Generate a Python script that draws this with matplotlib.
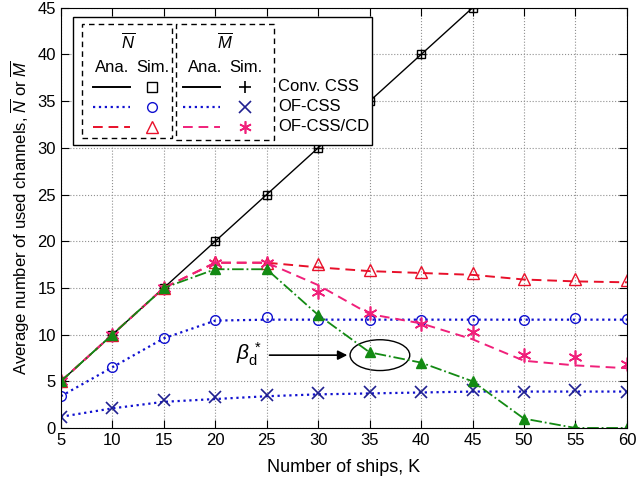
import matplotlib.pyplot as plt
from matplotlib.patches import Rectangle, Ellipse

plt.rcParams['font.family'] = ['Liberation Sans', 'DejaVu Sans']
plt.rcParams['mathtext.fontset'] = 'custom'
plt.rcParams['mathtext.it'] = 'Liberation Sans:italic'
plt.rcParams['mathtext.rm'] = 'Liberation Sans'

K = [5, 10, 15, 20, 25, 30, 35, 40, 45, 50, 55, 60]

# conventional CSS: every ship uses its own channel
conv = [5, 10, 15, 20, 25, 30, 35, 40, 45, 50, 55, 60]

of_n_ana = [3.4, 6.5, 9.6, 11.5, 11.6, 11.6, 11.6, 11.6, 11.6, 11.6, 11.6, 11.6]
of_n_sim = [3.4, 6.5, 9.6, 11.6, 11.9, 11.6, 11.6, 11.6, 11.6, 11.6, 11.8, 11.7]
of_m_ana = [1.2, 2.1, 2.8, 3.1, 3.4, 3.6, 3.7, 3.8, 3.9, 3.9, 3.9, 3.9]
of_m_sim = [1.2, 2.1, 3.0, 3.3, 3.5, 3.7, 3.8, 3.9, 4.1, 3.9, 4.1, 3.9]

cd_n_ana = [5, 10, 15, 17.7, 17.7, 17.2, 16.8, 16.6, 16.4, 15.9, 15.7, 15.6]
cd_n_sim = [5, 10, 15, 17.8, 17.7, 17.6, 16.9, 16.7, 16.6, 16.0, 16.0, 15.9]
cd_m_ana = [5, 10, 15, 17.7, 17.7, 15.3, 12.2, 11.2, 9.5, 7.2, 6.7, 6.4]
cd_m_sim = [5, 10, 15, 17.7, 17.7, 14.6, 12.3, 11.1, 10.3, 7.8, 7.6, 6.9]

beta_d = [5, 10, 15, 17.0, 17.0, 12.1, 8.1, 7.0, 5.0, 1.0, 0, 0]

fig = plt.figure(figsize=(6.41, 4.88), dpi=100)
ax = fig.add_axes([0.095, 0.123, 0.883, 0.861])

blue = '#1010d0'
red = '#e8102a'
mag = '#f0207a'
green = '#138a13'
star = (6, 2, 0)

ax.plot(K, conv, '-', color='k', lw=1.0)
ax.plot(K, conv, 's', color='k', mfc='none', ms=5.5, mew=1)
ax.plot(K, conv, '+', color='k', ms=7, mew=1)

ax.plot(K, of_n_ana, ':', color=blue, lw=1.6)
ax.plot(K, of_n_sim, 'o', color=blue, mfc='none', ms=7, mew=1)
ax.plot(K, of_m_ana, ':', color=blue, lw=1.6)
ax.plot(K, of_m_sim, 'x', color='#202090', ms=8, mew=1.2)

ax.plot(K, cd_n_ana, '--', color=red, lw=1.4, dashes=(5, 3))
ax.plot(K, cd_n_sim, '^', color=red, mfc='none', ms=8, mew=1)
ax.plot(K, cd_m_ana, '--', color=mag, lw=1.4, dashes=(5, 3))
ax.plot(K, cd_m_sim, marker=star, ls='none', color=mag, ms=10, mew=1.2)

ax.plot(K, beta_d, '-.', color=green, lw=1.3, marker='^', ms=7.5, mfc=green)

ax.set_xlim(5, 60)
ax.set_ylim(0, 45)
ax.set_xticks(range(5, 61, 5))
ax.set_yticks(range(0, 46, 5))
ax.tick_params(direction='in', top=True, right=True, labelsize=12, length=6)
ax.grid(True, linestyle=':', color='#909090', lw=0.8)
ax.set_xlabel('Number of ships, K', fontsize=13, labelpad=8)
ax.set_ylabel(r'Average number of used channels, $\overline{N}$ or $\overline{M}$', fontsize=12)

# beta_d* annotation with ellipse
ax.add_patch(Ellipse((36.0, 7.8), 5.8, 3.3, fill=False, color='k', lw=1))
ax.annotate('', xy=(33.1, 7.8), xytext=(25.0, 7.8),
            arrowprops=dict(arrowstyle='-|>', color='k', lw=1.2, mutation_scale=14))
ax.text(23.3, 7.9, r'$\beta_{\rm d}^{\,*}$', fontsize=15, ha='center', va='center')


# custom legend drawn in pixel-ish coordinates of the original
def P(px, py):
    return ((px - 61) / 566.0, (428 - py) / 420.0)


def box(x0, y0, x1, y1, ls):
    a = P(x0, y1)
    b = P(x1, y0)
    ax.add_patch(Rectangle(a, b[0] - a[0], b[1] - a[1], transform=ax.transAxes,
                           fill=True, fc='white', ec='k', lw=1, ls=ls, zorder=5))


box(73, 17, 372, 145, '-')
box(82, 24, 172, 138, (0, (4, 3)))
box(176, 24, 274, 140, (0, (4, 3)))

tx = dict(transform=ax.transAxes, fontsize=12, zorder=6, va='center')
ax.text(*P(128, 41), r'$\overline{N}$', ha='center', **tx)
ax.text(*P(225, 41), r'$\overline{M}$', ha='center', **tx)
ax.text(*P(112, 68), 'Ana.', ha='center', **tx)
ax.text(*P(153, 68), 'Sim.', ha='center', **tx)
ax.text(*P(205, 68), 'Ana.', ha='center', **tx)
ax.text(*P(246, 68), 'Sim.', ha='center', **tx)

rows = [87, 107, 127]
labels = ['Conv. CSS', 'OF-CSS', 'OF-CSS/CD']
styles = [('-', 'k', None), (':', blue, None), ('--', red, mag)]
n_mk = [('s', 'k', 7), ('o', blue, 7), ('^', red, 8)]
m_mk = [('+', 'k'), ('x', '#202090'), (star, mag)]
for r, lab, st, nm, mm in zip(rows, labels, styles, n_mk, m_mk):
    ls, c1, c2 = st
    c2 = c2 or c1
    for xa, xb, c in [(93, 130, c1), (183, 220, c2)]:
        p0 = P(xa, r)
        p1 = P(xb, r)
        kw = dict(dashes=(5, 3)) if ls == '--' else {}
        ax.plot([p0[0], p1[0]], [p0[1], p1[1]], ls, color=c, lw=1.4 if ls != ':' else 1.6,
                transform=ax.transAxes, zorder=6, **kw)
    ax.plot(*P(152, r), marker=nm[0], color=nm[1], mfc='none', ms=nm[2], mew=1,
            ls='none', transform=ax.transAxes, zorder=6)
    ax.plot(*P(245, r), marker=mm[0], color=mm[1], ms=9, mew=1.2, mfc='none',
            ls='none', transform=ax.transAxes, zorder=6)
    ax.text(*P(278, r), lab, ha='left', **tx)

fig.savefig('out.png', dpi=100)
